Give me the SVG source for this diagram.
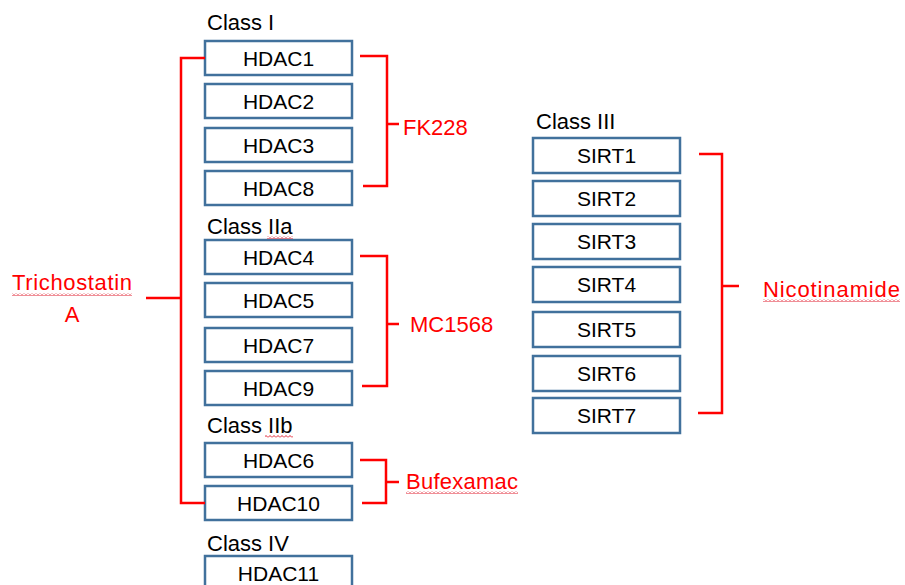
<svg xmlns="http://www.w3.org/2000/svg" width="905" height="585" viewBox="0 0 905 585">
<style>
.box{fill:#fff;stroke:#41719c;stroke-width:2.5}
.bt{font-family:"Liberation Sans",Arial,sans-serif;font-size:21px;fill:#000;text-anchor:middle}
.cls{font-family:"Liberation Sans",Arial,sans-serif;font-size:22px;fill:#000}
.lbl{font-family:"Liberation Sans",Arial,sans-serif;font-size:22px;fill:#ff0000}
.con{fill:none;stroke:#ff0000;stroke-width:2.5}
.sq{fill:url(#wavy)}
</style>
<defs>
<pattern id="wavy" width="4" height="3" patternUnits="userSpaceOnUse">
<path d="M0,2.5 L2,0.5 L4,2.5" fill="none" stroke="#e02030" stroke-width="1"/>
</pattern>
</defs>
<rect width="905" height="585" fill="#fff"/>
<g id="class-labels">
<text class="cls" x="207" y="30">Class I</text>
<text class="cls" x="207" y="234">Class IIa</text>
<text class="cls" x="207" y="433">Class IIb</text>
<text class="cls" x="207" y="551">Class IV</text>
<text class="cls" x="536" y="129">Class III</text>
</g>
<g id="HDAC1"><rect class="box" x="205" y="41" width="147" height="34"/><text class="bt" x="278.5" y="65.5">HDAC1</text></g>
<g id="HDAC2"><rect class="box" x="205" y="84" width="147" height="34"/><text class="bt" x="278.5" y="108.5">HDAC2</text></g>
<g id="HDAC3"><rect class="box" x="205" y="128" width="147" height="34"/><text class="bt" x="278.5" y="152.5">HDAC3</text></g>
<g id="HDAC8"><rect class="box" x="205" y="171" width="147" height="34"/><text class="bt" x="278.5" y="195.5">HDAC8</text></g>
<g id="HDAC4"><rect class="box" x="205" y="240" width="147" height="34"/><text class="bt" x="278.5" y="264.5">HDAC4</text></g>
<g id="HDAC5"><rect class="box" x="205" y="283" width="147" height="34"/><text class="bt" x="278.5" y="307.5">HDAC5</text></g>
<g id="HDAC7"><rect class="box" x="205" y="328" width="147" height="34"/><text class="bt" x="278.5" y="352.5">HDAC7</text></g>
<g id="HDAC9"><rect class="box" x="205" y="371" width="147" height="34"/><text class="bt" x="278.5" y="395.5">HDAC9</text></g>
<g id="HDAC6"><rect class="box" x="205" y="443" width="147" height="34"/><text class="bt" x="278.5" y="467.5">HDAC6</text></g>
<g id="HDAC10"><rect class="box" x="205" y="486" width="147" height="34"/><text class="bt" x="278.5" y="510.5">HDAC10</text></g>
<g id="HDAC11"><rect class="box" x="205" y="556" width="147" height="34"/><text class="bt" x="278.5" y="580.5">HDAC11</text></g>
<g id="SIRT1"><rect class="box" x="533" y="138" width="147" height="35"/><text class="bt" x="606.5" y="163">SIRT1</text></g>
<g id="SIRT2"><rect class="box" x="533" y="181" width="147" height="35"/><text class="bt" x="606.5" y="206">SIRT2</text></g>
<g id="SIRT3"><rect class="box" x="533" y="224" width="147" height="35"/><text class="bt" x="606.5" y="249">SIRT3</text></g>
<g id="SIRT4"><rect class="box" x="533" y="267" width="147" height="35"/><text class="bt" x="606.5" y="292">SIRT4</text></g>
<g id="SIRT5"><rect class="box" x="533" y="312" width="147" height="35"/><text class="bt" x="606.5" y="337">SIRT5</text></g>
<g id="SIRT6"><rect class="box" x="533" y="356" width="147" height="35"/><text class="bt" x="606.5" y="381">SIRT6</text></g>
<g id="SIRT7"><rect class="box" x="533" y="398" width="147" height="35"/><text class="bt" x="606.5" y="423">SIRT7</text></g>
<g id="connectors">
<path class="con" d="M205,58 H181 V503 H205 M146,298 H181"/>
<path class="con" d="M360,56 H387 V186 H363 M387,124 H399"/>
<path class="con" d="M360,256 H387 V386 H362 M387,324 H399"/>
<path class="con" d="M360,460 H386 V503 H362 M386,482 H399"/>
<path class="con" d="M699,154 H722 V413 H698 M722,286 H739"/>
</g>
<g id="inhibitors">
<text class="lbl" x="72" y="290" text-anchor="middle" textLength="120">Trichostatin</text>
<text class="lbl" x="72" y="322" text-anchor="middle">A</text>
<text class="lbl" x="403" y="135">FK228</text>
<text class="lbl" x="410" y="332">MC1568</text>
<text class="lbl" x="406" y="489" textLength="112">Bufexamac</text>
<text class="lbl" x="763" y="297" textLength="137">Nicotinamide</text>
</g>
<g id="spellcheck">
<rect class="sq" x="12" y="293" width="120" height="3"/>
<rect class="sq" x="267" y="236" width="26" height="3"/>
<rect class="sq" x="265" y="435" width="28" height="3"/>
<rect class="sq" x="406" y="491" width="112" height="3"/>
<rect class="sq" x="763" y="299" width="137" height="3"/>
</g>
</svg>
